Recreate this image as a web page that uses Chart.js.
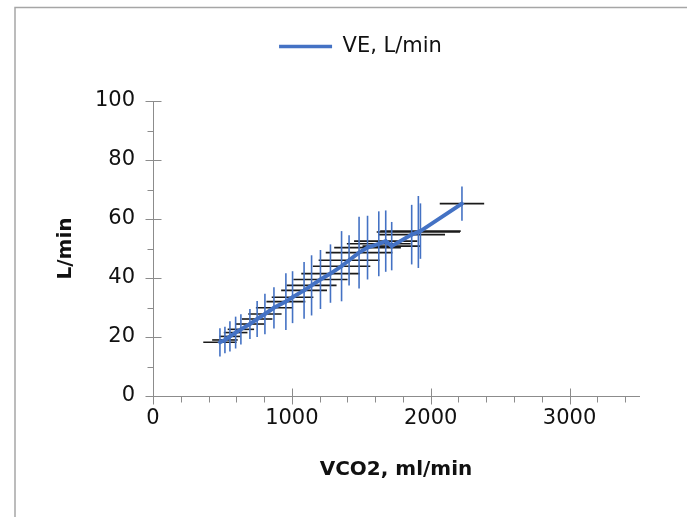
<!DOCTYPE html>
<html>
<head>
<meta charset="utf-8">
<script src="https://cdn.jsdelivr.net/npm/chart.js@4"></script>
<style>
  body { margin: 0; background: #fff; }
  #wrap { width: 687px; height: 517px; }
</style>
</head>
<body>
<div id="wrap"><canvas id="veChart"></canvas></div>
<script>
// values
const vco2 = [482, 518, 554, 595, 633, 698, 750, 806, 871, 957, 1005, 1088, 1142, 1206, 1278, 1358, 1412, 1484, 1545, 1626, 1676, 1719, 1863, 1911, 1926, 2225];
const ve = [18.2, 19.0, 20.2, 21.5, 22.6, 24.4, 26.1, 27.8, 29.9, 32.0, 33.5, 35.8, 37.5, 39.5, 41.5, 44.0, 46.0, 48.6, 50.3, 51.6, 52.5, 50.8, 54.7, 55.6, 55.9, 65.2];
const veErr = [4.8, 4.5, 5.1, 5.4, 5.1, 5.1, 6.1, 6.9, 7.0, 9.6, 8.8, 9.6, 10.2, 10.0, 9.9, 11.9, 8.5, 12.2, 10.8, 11.0, 10.4, 8.2, 10.1, 12.2, 9.4, 5.8];
const vco2Err = [120, 92, 75, 85, 95, 105, 110, 120, 130, 140, 150, 165, 180, 195, 210, 207, 219, 240, 240, 230, 228, 210, 240, 300, 290, 160];
const xTicks = [0, 1000, 2000, 3000];
const yTicks = [0, 20, 40, 60, 80, 100];

const FONT = "'DejaVu Sans', sans-serif";
const AXIS_COLOR = "#8c8c8c";

// error bars, drawn under the line
const errorBars = {
  id: "errorBars",
  beforeDatasetsDraw(chart) {
    const { ctx, scales: { x, y } } = chart;
    ctx.save();
    ctx.lineWidth = 1.6;
    // horizontal (VCO2) bars
    ctx.strokeStyle = "#1a1a1a";
    vco2.forEach((v, i) => {
      const py = y.getPixelForValue(ve[i]);
      ctx.beginPath();
      ctx.moveTo(x.getPixelForValue(v - vco2Err[i]), py);
      ctx.lineTo(x.getPixelForValue(v + vco2Err[i]), py);
      ctx.stroke();
    });
    // vertical (VE) bars
    ctx.strokeStyle = "#4472C4";
    vco2.forEach((v, i) => {
      const px = x.getPixelForValue(v);
      ctx.beginPath();
      ctx.moveTo(px, y.getPixelForValue(ve[i] - veErr[i]));
      ctx.lineTo(px, y.getPixelForValue(ve[i] + veErr[i]));
      ctx.stroke();
    });
    ctx.restore();
  }
};

// excel-like tick marks and the outer frame
const axisMarks = {
  id: "axisMarks",
  beforeDraw(chart) {
    const { ctx } = chart;
    ctx.save();
    ctx.strokeStyle = "#a6a6a6";
    ctx.lineWidth = 1.5;
    ctx.beginPath();
    ctx.moveTo(15, 517);
    ctx.lineTo(15, 7.5);
    ctx.lineTo(687, 7.5);
    ctx.stroke();
    ctx.restore();
  },
  afterDraw(chart) {
    const { ctx, scales: { x, y } } = chart;
    const x0 = Math.round(x.getPixelForValue(0)) + 0.5;
    const y0 = Math.round(y.getPixelForValue(0)) + 0.5;
    ctx.save();
    ctx.strokeStyle = AXIS_COLOR;
    ctx.lineWidth = 1;
    ctx.beginPath();
    for (let v = 0; v <= 3500; v += 200) {
      const px = Math.round(x.getPixelForValue(v)) + 0.5;
      const major = v % 1000 === 0;
      ctx.moveTo(px, major ? y0 - 8 : y0);
      ctx.lineTo(px, major ? y0 + 8 : y0 + 6);
    }
    for (let v = 0; v <= 100; v += 10) {
      const py = Math.round(y.getPixelForValue(v)) + 0.5;
      const major = v % 20 === 0;
      ctx.moveTo(major ? x0 - 8 : x0 - 6, py);
      ctx.lineTo(major ? x0 + 8 : x0, py);
    }
    ctx.stroke();
    ctx.restore();
  }
};

// extra room under the legend
const legendMargin = {
  id: "legendMargin",
  afterInit(chart) {
    const fitValue = chart.legend.fit;
    chart.legend.fit = function fit() {
      fitValue.bind(chart.legend)();
      this.height += 34;
    };
  }
};

new Chart(document.getElementById("veChart"), {
  type: "scatter",
  data: {
    datasets: [{
      label: "VE, L/min",
      data: vco2.map((v, i) => ({ x: v, y: ve[i] })),
      showLine: true,
      borderColor: "#4472C4",
      backgroundColor: "#4472C4",
      borderWidth: 4,
      pointStyle: "rectRot",
      pointRadius: 2.5,
      pointBorderWidth: 0
    }]
  },
  options: {
    responsive: true,
    maintainAspectRatio: false,
    animation: false,
    layout: { padding: { left: 82, top: 24, right: 48, bottom: 20 } },
    plugins: {
      legend: {
        position: "top",
        labels: {
          boxWidth: 53,
          boxHeight: 3.5,
          padding: 12,
          color: "#111",
          font: { family: FONT, size: 21 },
          generateLabels: (chart) =>
            Chart.defaults.plugins.legend.labels.generateLabels(chart).map((l) => ({ ...l, lineWidth: 0 }))
        }
      },
      tooltip: { enabled: false }
    },
    scales: {
      x: {
        type: "linear",
        min: 0,
        max: 3500,
        afterBuildTicks: (s) => { s.ticks = xTicks.map((v) => ({ value: v })); },
        afterFit: (s) => { s.height = 101; },
        grid: { display: false, drawTicks: false },
        border: { display: true, color: AXIS_COLOR, width: 1 },
        ticks: { padding: 10, color: "#111", font: { family: FONT, size: 21 }, maxRotation: 0, callback: (v) => String(v) },
        title: {
          display: true,
          text: "VCO2, ml/min",
          color: "#111",
          font: { family: FONT, size: 20, weight: "bold" },
          padding: { top: 0, bottom: 15 }
        }
      },
      y: {
        type: "linear",
        min: 0,
        max: 100,
        afterBuildTicks: (s) => { s.ticks = yTicks.map((v) => ({ value: v })); },
        afterFit: (s) => { s.width = 71; },
        grid: { display: false, drawTicks: false },
        border: { display: true, color: AXIS_COLOR, width: 1 },
        ticks: { padding: 18, color: "#111", font: { family: FONT, size: 21 }, callback: (v) => String(v) },
        title: {
          display: true,
          text: "L/min",
          color: "#111",
          font: { family: FONT, size: 20, weight: "bold" },
          padding: { top: -28, bottom: 0 }
        }
      }
    }
  },
  plugins: [errorBars, axisMarks, legendMargin]
});
</script>
</body>
</html>
